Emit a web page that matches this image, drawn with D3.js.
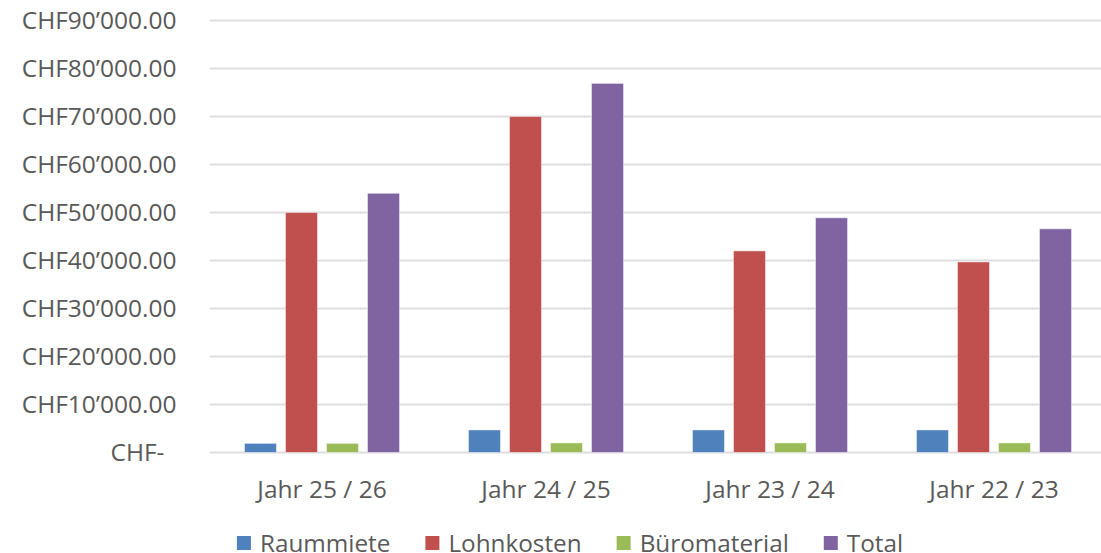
<!DOCTYPE html>
<html>
<head>
<meta charset="utf-8">
<script src="https://cdn.jsdelivr.net/npm/d3@7"></script>
<style>
    body { margin: 0; background: #fff; }
    svg { display: block; font-family: "Open Sans", sans-serif; }
</style>
</head>
<body>
<svg id="chart"></svg>
<script>
// data
const categories = ["Jahr 25 / 26", "Jahr 24 / 25", "Jahr 23 / 24", "Jahr 22 / 23"];
const seriesNames = ["Raummiete", "Lohnkosten", "Büromaterial", "Total"];
const raummiete = [1900, 4700, 4700, 4700];
const lohnkosten = [50000, 70000, 42000, 39700];
const buromaterial = [1900, 2000, 2000, 2000];
const total = [54000, 76900, 48900, 46600];
const yTicks = [0, 10000, 20000, 30000, 40000, 50000, 60000, 70000, 80000, 90000];

const seriesValues = [raummiete, lohnkosten, buromaterial, total];
const colors = ["#4F81BD", "#C0504D", "#9BBB59", "#8064A2"];

const width = 1101,
    height = 553;
const margin = {top: 20.5, right: -5, bottom: 100.5, left: 210};
const fontSize = 24.5;

let svg = d3.select("#chart")
    .attr("width", width)
    .attr("height", height);

// CHF number format with swiss apostrophe
const locale = d3.formatLocale({decimal: ".", thousands: "’", grouping: [3], currency: ["CHF", ""]});
const fmt = locale.format(",.2f");

let x = d3.scaleBand()
    .domain(categories)
    .range([margin.left, width - margin.right])
    .paddingInner(0.308)
    .paddingOuter(0.154);

let xs = d3.scaleBand()
    .domain(seriesNames)
    .range([0, x.bandwidth()])
    .paddingInner(0.22)
    .paddingOuter(0);

let y = d3.scaleLinear()
    .domain([0, 90000])
    .range([height - margin.bottom, margin.top]);

// gridlines
svg.append("g")
    .selectAll("line")
    .data(yTicks)
    .join("line")
    .attr("x1", margin.left)
    .attr("x2", width - margin.right)
    .attr("y1", d => y(d))
    .attr("y2", d => y(d))
    .attr("stroke", "#dddddd")
    .attr("stroke-width", 2);

// y axis labels
let yAxis = d3.axisLeft(y)
    .tickValues(yTicks)
    .tickSize(0)
    .tickPadding(0)
    .tickFormat(d => d === 0 ? "CHF-" : "CHF" + fmt(d));

svg.append("g")
    .attr("transform", `translate(176.5,0)`)
    .call(yAxis)
    .call(g => g.select(".domain").remove())
    .call(g => g.selectAll("text")
        .attr("font-family", "Open Sans, sans-serif")
        .attr("font-size", fontSize)
        .attr("fill", "#595959")
        .attr("dx", d => d === 0 ? -12 : 0));

// bars
let groups = svg.append("g")
    .selectAll("g")
    .data(categories.map((c, i) => ({c, i})))
    .join("g")
    .attr("transform", d => `translate(${x(d.c)},0)`);

groups.selectAll("rect")
    .data(d => seriesNames.map((s, k) => ({s, k, v: seriesValues[k][d.i]})))
    .join("rect")
    .attr("x", d => xs(d.s))
    .attr("width", xs.bandwidth())
    .attr("y", d => y(d.v))
    .attr("height", d => y(0) - y(d.v))
    .attr("fill", d => colors[d.k])
    .attr("stroke", "rgba(255,255,255,0.45)")
    .attr("stroke-width", 1);

// x axis labels
let xAxis = d3.axisBottom(x)
    .tickSize(0)
    .tickPadding(0);

svg.append("g")
    .attr("transform", `translate(0,${y(0)})`)
    .call(xAxis)
    .call(g => g.select(".domain").remove())
    .call(g => g.selectAll("text")
        .attr("font-family", "Open Sans, sans-serif")
        .attr("font-size", fontSize)
        .attr("fill", "#595959")
        .attr("dy", 0)
        .attr("y", 45.5));

// legend
let legend = svg.append("g");
let items = legend.selectAll("g")
    .data(seriesNames)
    .join("g");

items.append("rect")
    .attr("width", 14)
    .attr("height", 14)
    .attr("y", 536)
    .attr("fill", (d, i) => colors[i]);

items.append("text")
    .attr("x", 23)
    .attr("y", 551.5)
    .attr("font-size", 24.3)
    .attr("fill", "#595959")
    .text(d => d);

const itemGap = 35;
let pos = 0;
items.each(function () {
    let w = d3.select(this).select("text").node().getComputedTextLength();
    d3.select(this).attr("data-x", pos);
    pos += 23 + w + itemGap;
});
let legendWidth = pos - itemGap;
let startX = 570 - legendWidth / 2;
items.attr("transform", function () {
    return `translate(${startX + +d3.select(this).attr("data-x")},0)`;
});
</script>
</body>
</html>
